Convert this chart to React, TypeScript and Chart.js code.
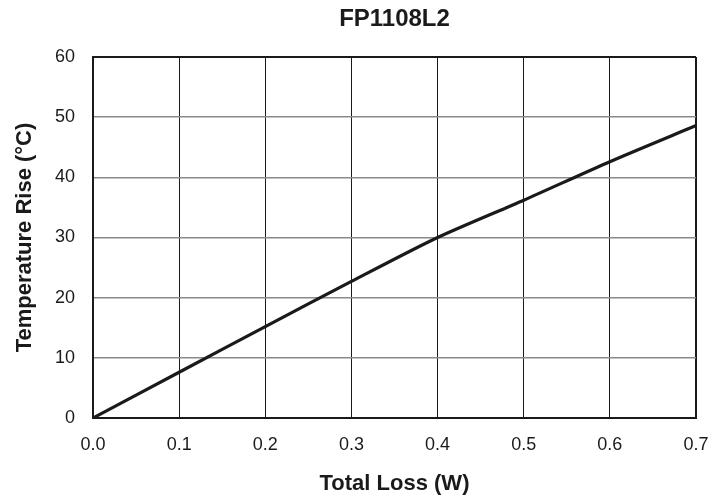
import React, { useEffect, useRef } from "react";
import { Chart, registerables } from "chart.js";

Chart.register(...registerables);

const lossW = [0, 0.1, 0.2, 0.3, 0.4, 0.5, 0.6, 0.7];
const tempRise = [0, 7.6, 15.2, 22.7, 30.0, 36.2, 42.6, 48.6];
const xTicks = [0, 0.1, 0.2, 0.3, 0.4, 0.5, 0.6, 0.7];
const yTicks = [0, 10, 20, 30, 40, 50, 60];

export default function App() {
  const ref = useRef<HTMLCanvasElement | null>(null);
  useEffect(() => {
    document.body.style.margin = "0";
    if (!ref.current) return;
    const font = "'Liberation Sans', Arial, Helvetica, sans-serif";
    const chart = new Chart(ref.current, {
      type: "line",
      data: {
        datasets: [
          {
            data: lossW.map((x, i) => ({ x, y: tempRise[i] })),
            borderColor: "#1a1a1a",
            borderWidth: 3.2,
            pointRadius: 0,
            tension: 0.25,
            fill: false,
          },
        ],
      },
      options: {
        animation: false,
        responsive: false,
        devicePixelRatio: 1,
        layout: { padding: { left: 0, right: 25, top: 0, bottom: 0 } },
        plugins: {
          legend: { display: false },
          tooltip: { enabled: false },
          title: {
            display: true,
            text: "FP1108L2",
            fullSize: false,
            color: "#1a1a1a",
            font: { family: font, size: 24, weight: "bold" },
            padding: { top: 5, bottom: 23.2 },
          },
        },
        scales: {
          x: {
            type: "linear",
            min: 0,
            max: 0.7,
            afterBuildTicks: (s: any) => {
              s.ticks = xTicks.map((v) => ({ value: v }));
            },
            afterFit: (s: any) => {
              s.height = 83;
              s.paddingRight = 0;
              s.paddingLeft = 0;
            },
            ticks: {
              color: "#1a1a1a",
              font: { family: font, size: 18 },
              padding: 16,
              callback: (v: any) => Number(v).toFixed(1),
            },
            grid: {
              color: "#1a1a1a",
              lineWidth: (c: any) => (c.tick && Math.abs(c.tick.value - 0.7) < 1e-9 ? 2 : 1),
              drawTicks: false,
            },
            border: { color: "#1a1a1a", width: 2 },
            title: {
              display: true,
              text: "Total Loss (W)",
              color: "#1a1a1a",
              font: { family: font, size: 22, weight: "bold" },
              padding: { top: 0, bottom: 4 },
            },
          },
          y: {
            min: 0,
            max: 60,
            afterBuildTicks: (s: any) => {
              s.ticks = yTicks.map((v) => ({ value: v }));
            },
            afterFit: (s: any) => {
              s.width = 93;
            },
            ticks: {
              color: "#1a1a1a",
              font: { family: font, size: 18 },
              padding: 18,
            },
            grid: {
              color: (c: any) => (c.tick && c.tick.value === 60 ? "#1a1a1a" : "#8a8a8a"),
              lineWidth: (c: any) => (c.tick && c.tick.value === 60 ? 2 : 1.5),
              drawTicks: false,
            },
            border: { color: "#1a1a1a", width: 2 },
            title: {
              display: true,
              text: "Temperature Rise (°C)",
              color: "#1a1a1a",
              font: { family: font, size: 22, weight: "bold" },
              padding: { top: 12, bottom: 0 },
            },
          },
        },
      },
    });
    return () => chart.destroy();
  }, []);
  return (
    <div style={{ width: 721, height: 501, background: "#fff" }}>
      <canvas ref={ref} width={721} height={501} />
    </div>
  );
}
